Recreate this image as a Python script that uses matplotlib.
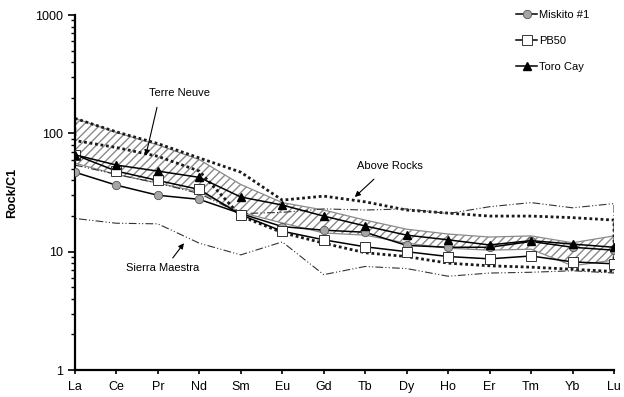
"""
REE spider diagram (chondrite-normalised) with reference fields.
"""

import matplotlib
matplotlib.use("Agg")
import matplotlib.pyplot as plt
import matplotlib.ticker as ticker

# ── Data ──────────────────────────────────────────────────────────────────────

REE = ["La", "Ce", "Pr", "Nd", "Sm", "Eu", "Gd", "Tb", "Dy", "Ho", "Er", "Tm", "Yb", "Lu"]

MISKITO = [47, 36.5, 30, 27.7, 21, 16.3, 15.2, 14.6, 11.3, 10.9, 10.9, 12.2, 10.9, 10.3]
PB50 = [66, 48, 40, 33.6, 20.5, 14.9, 12.6, 11.0, 10.0, 9.1, 8.7, 9.2, 8.2, 7.9]
TORO_CAY = [66, 54, 48, 42.5, 29, 24.8, 20, 16.5, 13.8, 12.6, 11.4, 12.4, 11.6, 10.9]

TERRE_NEUVE_HI = [134, 102, 80, 60, 37, 26, 22.5, 18.5, 15.5, 14.1, 13.3, 13.6, 11.9, 13.6]
TERRE_NEUVE_LO = [56, 45, 38, 32, 21.5, 17.5, 14.4, 13.8, 11.8, 10.7, 10.3, 10.5, 7.6, 8.5]

ABOVE_ROCKS_HI = [134, 103, 82, 62, 47, 27.3, 29.5, 26.4, 22.5, 21.2, 20, 20, 19.4, 18.5]
ABOVE_ROCKS_LO = [87, 76, 64, 48, 20, 14.5, 11.8, 9.8, 9.1, 8.0, 7.6, 7.4, 7.1, 6.8]

SIERRA_MAESTRA_HI = [54, 45, 38, 31, 21, 21.5, 23, 22.5, 23, 21, 24, 26, 23.5, 25.5]
SIERRA_MAESTRA_LO = [19.1, 17.4, 17.2, 11.8, 9.4, 12.1, 6.4, 7.5, 7.2, 6.2, 6.6, 6.7, 6.9, 6.6]

# ── Style ─────────────────────────────────────────────────────────────────────

FONT = "Liberation Sans"
DASH_DOT_DOT = (0, (7, 2, 1, 2, 1, 2))


def closed(xs, hi, lo):
    """Outline of a field: upper edge, then lower edge backwards, closed."""
    px = list(xs) + list(xs[::-1]) + [xs[0]]
    py = list(hi) + list(lo[::-1]) + [hi[0]]
    return px, py


def main():
    plt.rcParams["font.family"] = [FONT, "DejaVu Sans"]
    plt.rcParams["hatch.linewidth"] = 1.0

    fig = plt.figure(figsize=(6.24, 3.97), dpi=100)
    ax = fig.add_axes([0.120, 0.068, 0.864, 0.894])
    x = list(range(len(REE)))

    # Terre Neuve field (hatched)
    tx, ty = closed(x, TERRE_NEUVE_HI, TERRE_NEUVE_LO)
    ax.fill(tx, ty, facecolor="none", edgecolor="#8a8a8a", hatch="////",
            linewidth=0.9, zorder=1)

    # Above Rocks field (heavy dotted)
    ax_, ay_ = closed(x, ABOVE_ROCKS_HI, ABOVE_ROCKS_LO)
    ax.plot(ax_, ay_, color="#1a1a1a", linestyle=(0, (1, 1)), linewidth=2.0, zorder=2)

    # Sierra Maestra field (dash-dot-dot)
    sx, sy = closed(x, SIERRA_MAESTRA_HI, SIERRA_MAESTRA_LO)
    ax.plot(sx, sy, color="#333333", linestyle=DASH_DOT_DOT, linewidth=0.8, zorder=2)

    # Samples
    ax.plot(x, MISKITO, color="black", linewidth=1.1, marker="o", markersize=6,
            markerfacecolor="#a6a6a6", markeredgecolor="#555555", markeredgewidth=0.6,
            label="Miskito #1", zorder=4)
    ax.plot(x, PB50, color="black", linewidth=1.1, marker="s", markersize=6.5,
            markerfacecolor="white", markeredgecolor="#333333", markeredgewidth=0.7,
            label="PB50", zorder=4)
    ax.plot(x, TORO_CAY, color="black", linewidth=1.1, marker="^", markersize=6,
            markerfacecolor="black", markeredgecolor="black",
            label="Toro Cay", zorder=5)

    # Field labels
    arrow = dict(arrowstyle="-|>", color="black", linewidth=0.8, mutation_scale=8,
                 shrinkA=0, shrinkB=0)
    ax.annotate("", xy=(1.71, 65), xytext=(1.98, 166), arrowprops=arrow)
    ax.text(2.53, 218, "Terre Neuve", ha="center", va="center", fontsize=8)
    ax.annotate("", xy=(6.75, 29), xytext=(7.21, 41), arrowprops=arrow)
    ax.text(7.6, 53, "Above Rocks", ha="center", va="center", fontsize=8)
    ax.annotate("", xy=(2.63, 11.8), xytext=(2.36, 8.85), arrowprops=arrow)
    ax.text(2.12, 7.3, "Sierra Maestra", ha="center", va="center", fontsize=8)

    # Axes
    ax.set_yscale("log")
    ax.set_ylim(1, 1000)
    ax.set_xlim(0, len(REE) - 1)
    ax.set_xticks(x)
    ax.set_xticklabels(REE, fontsize=9)
    ax.yaxis.set_major_locator(ticker.LogLocator(base=10))
    ax.yaxis.set_major_formatter(ticker.FuncFormatter(lambda v, _: f"{v:g}"))
    ax.yaxis.set_minor_locator(ticker.LogLocator(base=10, subs=range(2, 10)))
    ax.yaxis.set_minor_formatter(ticker.NullFormatter())
    ax.tick_params(axis="y", which="major", labelsize=9, length=5, width=1.2, direction="out")
    ax.tick_params(axis="y", which="minor", length=3, width=1.0, direction="out")
    ax.tick_params(axis="x", length=3, width=1.2, direction="out", pad=5)
    ax.set_ylabel("Rock/C1", fontsize=9, fontweight="bold")
    ax.yaxis.set_label_coords(-0.106, 0.5)

    for side in ("top", "right"):
        ax.spines[side].set_visible(False)
    for side in ("left", "bottom"):
        ax.spines[side].set_linewidth(1.6)

    ax.legend(loc="upper left", bbox_to_anchor=(516 / 624, 1 - 10 / 397),
              bbox_transform=fig.transFigure, frameon=False, fontsize=8,
              handlelength=1.9, handletextpad=0.2, labelspacing=1.45,
              borderpad=0, borderaxespad=0)

    fig.savefig("out.png", dpi=100)
    plt.close(fig)


if __name__ == "__main__":
    main()
